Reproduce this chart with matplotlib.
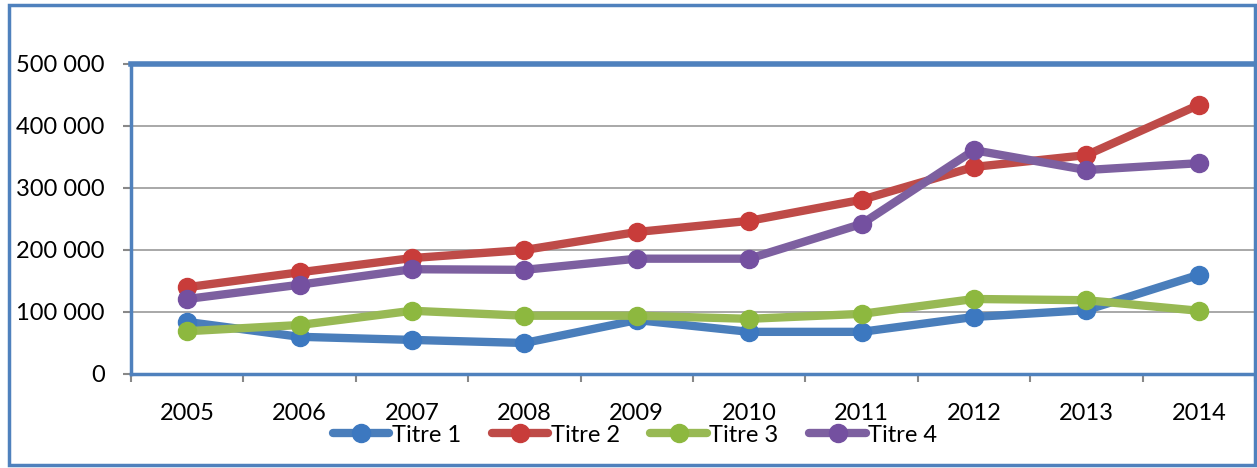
import matplotlib.pyplot as plt
from matplotlib.patches import Rectangle
from matplotlib.ticker import FuncFormatter, FixedLocator

# Données
annees = ['2005', '2006', '2007', '2008', '2009', '2010', '2011', '2012', '2013', '2014']
titre1 = [84000, 60000, 55000, 50000, 87000, 68000, 68000, 92000, 103000, 160000]
titre2 = [140000, 164000, 187000, 200000, 229000, 247000, 281000, 334000, 353000, 434000]
titre3 = [69000, 79000, 102000, 94000, 94000, 89000, 97000, 121000, 119000, 102000]
titre4 = [121000, 144000, 169000, 168000, 186000, 186000, 242000, 361000, 329000, 340000]

noms = ['Titre 1', 'Titre 2', 'Titre 3', 'Titre 4']
couleurs = ['#4A7EBB', '#BE4B48', '#98B954', '#7D60A0']
marqueurs = ['#3C78C0', '#C83C3A', '#8DB83F', '#7450A0']

plt.rcParams['font.family'] = ['Lato', 'DejaVu Sans']

fig = plt.figure(figsize=(12.57, 4.68), dpi=100)

# cadre extérieur bleu
fig.patches.append(Rectangle((9 / 1257, 3 / 468), 1246 / 1257, 460 / 468,
                             transform=fig.transFigure, fill=False,
                             edgecolor='#4F81BD', linewidth=2.5, zorder=0))

ax = fig.add_axes([131 / 1257, 1 - 374 / 468, 1124 / 1257, 310 / 468])

x = list(range(len(annees)))
for serie, nom, c, mc in zip([titre1, titre2, titre3, titre4], noms, couleurs, marqueurs):
    ax.plot(x, serie, color=c, linewidth=6, marker='o', markersize=13,
            markerfacecolor=mc, markeredgecolor=mc, label=nom,
            solid_capstyle='round', zorder=3)

ax.set_xlim(-0.5, len(annees) - 0.5)
ax.set_ylim(0, 500000)
ax.set_yticks(range(0, 500001, 100000))
ax.yaxis.set_major_formatter(FuncFormatter(lambda v, p: f'{int(v):,}'.replace(',', ' ')))
ax.set_xticks(x)
ax.set_xticklabels(annees)
ax.xaxis.set_minor_locator(FixedLocator([i - 0.5 for i in range(len(annees) + 1)]))
ax.tick_params(axis='x', which='major', length=0, pad=21, labelsize=17)
ax.tick_params(axis='x', which='minor', length=6, width=1.5, color='#888888', direction='out')
ax.tick_params(axis='y', length=6, width=1.5, color='#888888', labelsize=17, pad=13)

ax.grid(axis='y', color='#999999', linewidth=1.2)
ax.set_axisbelow(True)

for s in ['top', 'bottom', 'left']:
    ax.spines[s].set_color('#4F81BD')
ax.spines['top'].set_linewidth(4)
ax.spines['bottom'].set_linewidth(2.5)
ax.spines['left'].set_linewidth(2.5)
ax.spines['right'].set_visible(False)

fig.legend(loc='center', bbox_to_anchor=(635 / 1257, 1 - 435 / 468), ncol=4,
           frameon=False, fontsize=17, handlelength=2.4, handletextpad=0.1,
           columnspacing=1.3, borderpad=0)

fig.savefig('out.png', dpi=100)
